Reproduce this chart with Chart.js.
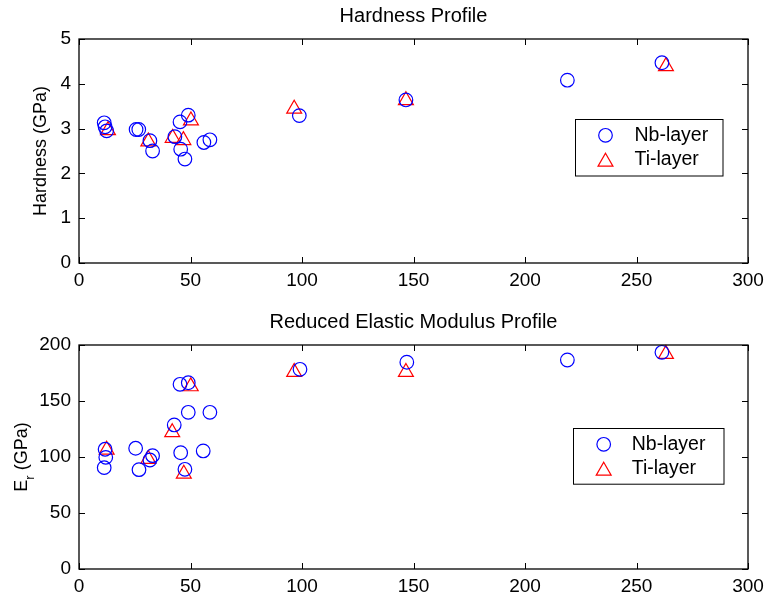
<!doctype html>
<html lang="en">
<head>
<meta charset="utf-8">
<title>Hardness and Reduced Elastic Modulus Profiles</title>
<script src="https://cdn.jsdelivr.net/npm/chart.js"></script>
<style>
  body { margin: 0; background: #fff; }
  #wrap { width: 766px; height: 599px; }
  canvas { display: block; }
</style>
</head>
<body>
<div id="wrap">
  <canvas id="hardChart" width="766" height="300"></canvas>
  <canvas id="modChart" width="766" height="299"></canvas>
</div>
<script>
// ---- data ----
const xTicks = [0, 50, 100, 150, 200, 250, 300];
const hardTicks = [0, 1, 2, 3, 4, 5];
const modTicks = [0, 50, 100, 150, 200];

// hardness (GPa)
const hardNbX = [11.3, 11.7, 12.4, 25.6, 26.8, 31.8, 33.0, 43.0, 45.3, 45.6, 47.5, 49.0, 56.0, 58.7, 98.8, 146.6, 219.0, 261.4];
const hardNbY = [3.13, 3.04, 2.95, 2.98, 2.98, 2.73, 2.50, 2.82, 3.15, 2.54, 2.32, 3.30, 2.69, 2.75, 3.29, 3.64, 4.08, 4.47];
const hardTiX = [13.0, 31.1, 42.0, 46.8, 50.2, 96.5, 146.6, 263.2];
const hardTiY = [2.96, 2.71, 2.79, 2.74, 3.18, 3.44, 3.63, 4.39];

// reduced elastic modulus (GPa)
const modNbX = [11.7, 12.0, 11.3, 25.4, 26.9, 31.8, 33.0, 42.7, 45.3, 45.6, 47.5, 49.0, 49.0, 55.7, 58.7, 99.1, 147.0, 219.0, 261.4];
const modNbY = [106.9, 99.7, 90.5, 107.8, 88.7, 97.3, 101.2, 128.6, 164.9, 103.8, 89.0, 166.3, 139.9, 105.4, 139.9, 178.3, 184.6, 186.6, 193.5];
const modTiX = [12.4, 31.1, 41.8, 47.0, 50.1, 96.5, 146.6, 263.2];
const modTiY = [106.4, 98.1, 122.0, 85.0, 163.0, 175.8, 175.8, 191.9];

const seriesNames = ['Nb-layer', 'Ti-layer'];

const FONT = '"Liberation Sans", Arial, Helvetica, sans-serif';
const BLUE = '#0000ff';
const RED = '#ff0000';

function pts(xs, ys) {
  return xs.map((x, i) => ({ x: x, y: ys[i] }));
}

// box + inward ticks, matlab style
const boxPlugin = {
  id: 'boxTicks',
  afterDraw(chart) {
    const ctx = chart.ctx;
    const a = chart.chartArea;
    const xs = chart.scales.x, ys = chart.scales.y;
    const tl = 6;
    ctx.save();
    ctx.strokeStyle = '#000';
    ctx.lineWidth = 1.3;
    ctx.strokeRect(a.left, a.top, a.right - a.left, a.bottom - a.top);
    ctx.lineWidth = 1;
    ctx.beginPath();
    xs.ticks.forEach(t => {
      const px = Math.round(xs.getPixelForValue(t.value)) + 0.5;
      ctx.moveTo(px, a.bottom); ctx.lineTo(px, a.bottom - tl);
      ctx.moveTo(px, a.top); ctx.lineTo(px, a.top + tl);
    });
    ys.ticks.forEach(t => {
      const py = Math.round(ys.getPixelForValue(t.value)) + 0.5;
      ctx.moveTo(a.left, py); ctx.lineTo(a.left + tl, py);
      ctx.moveTo(a.right, py); ctx.lineTo(a.right - tl, py);
    });
    ctx.stroke();
    ctx.restore();
  }
};

// plot title centred over the axes box
const axesTitle = {
  id: 'axesTitle',
  afterDraw(chart, args, opts) {
    const ctx = chart.ctx;
    const a = chart.chartArea;
    ctx.save();
    ctx.fillStyle = '#000';
    ctx.font = '20px ' + FONT;
    ctx.textAlign = 'center';
    ctx.textBaseline = 'middle';
    ctx.fillText(opts.text, (a.left + a.right) / 2, opts.y);
    ctx.restore();
  }
};

function triPath(ctx, cx, cy, r) {
  let rad = 0;
  ctx.beginPath();
  for (let k = 0; k < 3; k++) {
    const fx = cx + Math.sin(rad) * r, fy = cy - Math.cos(rad) * r;
    if (k === 0) ctx.moveTo(fx, fy); else ctx.lineTo(fx, fy);
    rad += 2 * Math.PI / 3;
  }
  ctx.closePath();
}

// legend box inside the plot area
const boxLegend = {
  id: 'boxLegend',
  afterDraw(chart, args, opts) {
    const ctx = chart.ctx;
    const a = chart.chartArea;
    const L = a.left + opts.left, T = a.top + opts.top;
    ctx.save();
    ctx.fillStyle = '#fff';
    ctx.fillRect(L, T, opts.width, opts.height);
    ctx.strokeStyle = '#000';
    ctx.lineWidth = 1;
    ctx.strokeRect(Math.round(L) + 0.5, Math.round(T) + 0.5, opts.width, opts.height);
    // markers
    ctx.lineWidth = 1.2;
    ctx.strokeStyle = BLUE;
    ctx.beginPath();
    ctx.arc(L + 31, T + 16, 6.8, 0, Math.PI * 2);
    ctx.stroke();
    ctx.strokeStyle = RED;
    triPath(ctx, L + 31, T + 42.5, 8.6);
    ctx.stroke();
    // labels
    ctx.fillStyle = '#000';
    ctx.font = '19.5px ' + FONT;
    ctx.textBaseline = 'middle';
    ctx.textAlign = 'left';
    ctx.fillText(seriesNames[0], L + opts.textX, T + 16);
    ctx.fillText(seriesNames[1], L + opts.textX, T + 40.5);
    ctx.restore();
  }
};

// y title with a subscript for the modulus plot
const subTitle = {
  id: 'subTitle',
  afterDraw(chart, args, opts) {
    if (!opts.on) return;
    const ctx = chart.ctx;
    const a = chart.chartArea;
    const big = '18px ' + FONT, small = '13px ' + FONT;
    ctx.save();
    ctx.font = big; const wE = ctx.measureText('E').width;
    const wRest = ctx.measureText(' (GPa)').width;
    ctx.font = small; const wr = ctx.measureText('r').width;
    const w = wE + wr + wRest;
    ctx.translate(opts.x, (a.top + a.bottom) / 2);
    ctx.rotate(-Math.PI / 2);
    ctx.fillStyle = '#000';
    ctx.textBaseline = 'middle';
    ctx.textAlign = 'left';
    ctx.font = big;
    ctx.fillText('E', -w / 2, 0);
    ctx.font = small;
    ctx.fillText('r', -w / 2 + wE, 8);
    ctx.font = big;
    ctx.fillText(' (GPa)', -w / 2 + wE + wr, 0);
    ctx.restore();
  }
};

function makeChart(id, cfg) {
  const ctx = document.getElementById(id).getContext('2d');
  return new Chart(ctx, {
    type: 'scatter',
    data: {
      datasets: [{
        label: seriesNames[0],
        data: pts(cfg.nbX, cfg.nbY),
        pointStyle: 'circle',
        pointRadius: 6.8,
        borderWidth: 1.2,
        borderColor: BLUE,
        backgroundColor: 'rgba(0,0,0,0)'
      }, {
        label: seriesNames[1],
        data: pts(cfg.tiX, cfg.tiY),
        pointStyle: 'triangle',
        pointRadius: 8.6,
        borderWidth: 1.2,
        borderColor: RED,
        backgroundColor: 'rgba(0,0,0,0)'
      }]
    },
    options: {
      responsive: false,
      animation: false,
      events: [],
      clip: false,
      layout: { padding: { left: 0, right: 18, top: cfg.top, bottom: 0 } },
      scales: {
        x: {
          type: 'linear',
          min: xTicks[0], max: xTicks[xTicks.length - 1],
          afterBuildTicks: s => { s.ticks = xTicks.map(v => ({ value: v })); },
          afterFit: s => { s.height = cfg.xAxisH; s.paddingLeft = 0; s.paddingRight = 0; },
          grid: { display: false, drawTicks: false },
          border: { display: false },
          ticks: { color: '#000', padding: 6, font: { family: FONT, size: 19 }, maxRotation: 0 }
        },
        y: {
          type: 'linear',
          min: cfg.yTicks[0], max: cfg.yTicks[cfg.yTicks.length - 1],
          afterBuildTicks: s => { s.ticks = cfg.yTicks.map(v => ({ value: v })); },
          afterFit: s => { s.width = 79; s.paddingTop = 0; s.paddingBottom = 0; },
          grid: { display: false, drawTicks: false },
          border: { display: false },
          ticks: { color: '#000', padding: 8, font: { family: FONT, size: 19 } },
          title: {
            display: !!cfg.yTitle,
            text: cfg.yTitle || '',
            color: '#000',
            font: { family: FONT, size: 18 },
            padding: { top: 30, bottom: 0 }
          }
        }
      },
      plugins: {
        legend: { display: false },
        tooltip: { enabled: false },
        title: { display: false },
        axesTitle: cfg.titleOpts,
        boxLegend: cfg.legend,
        subTitle: cfg.sub
      }
    },
    plugins: [boxPlugin, axesTitle, boxLegend, subTitle]
  });
}

makeChart('hardChart', {
  nbX: hardNbX, nbY: hardNbY, tiX: hardTiX, tiY: hardTiY,
  yTicks: hardTicks,
  yTitle: 'Hardness (GPa)',
  titleOpts: { text: 'Hardness Profile', y: 16 },
  top: 39,
  xAxisH: 37,
  legend: { left: 495.5, top: 80.3, width: 147.5, height: 56.5, textX: 60 },
  sub: { on: false }
});

makeChart('modChart', {
  nbX: modNbX, nbY: modNbY, tiX: modTiX, tiY: modTiY,
  yTicks: modTicks,
  yTitle: '',
  titleOpts: { text: 'Reduced Elastic Modulus Profile', y: 22.5 },
  top: 45,
  xAxisH: 30,
  legend: { left: 493.7, top: 83.3, width: 150.5, height: 55.7, textX: 59 },
  sub: { on: true, x: 22 }
});
</script>
</body>
</html>
